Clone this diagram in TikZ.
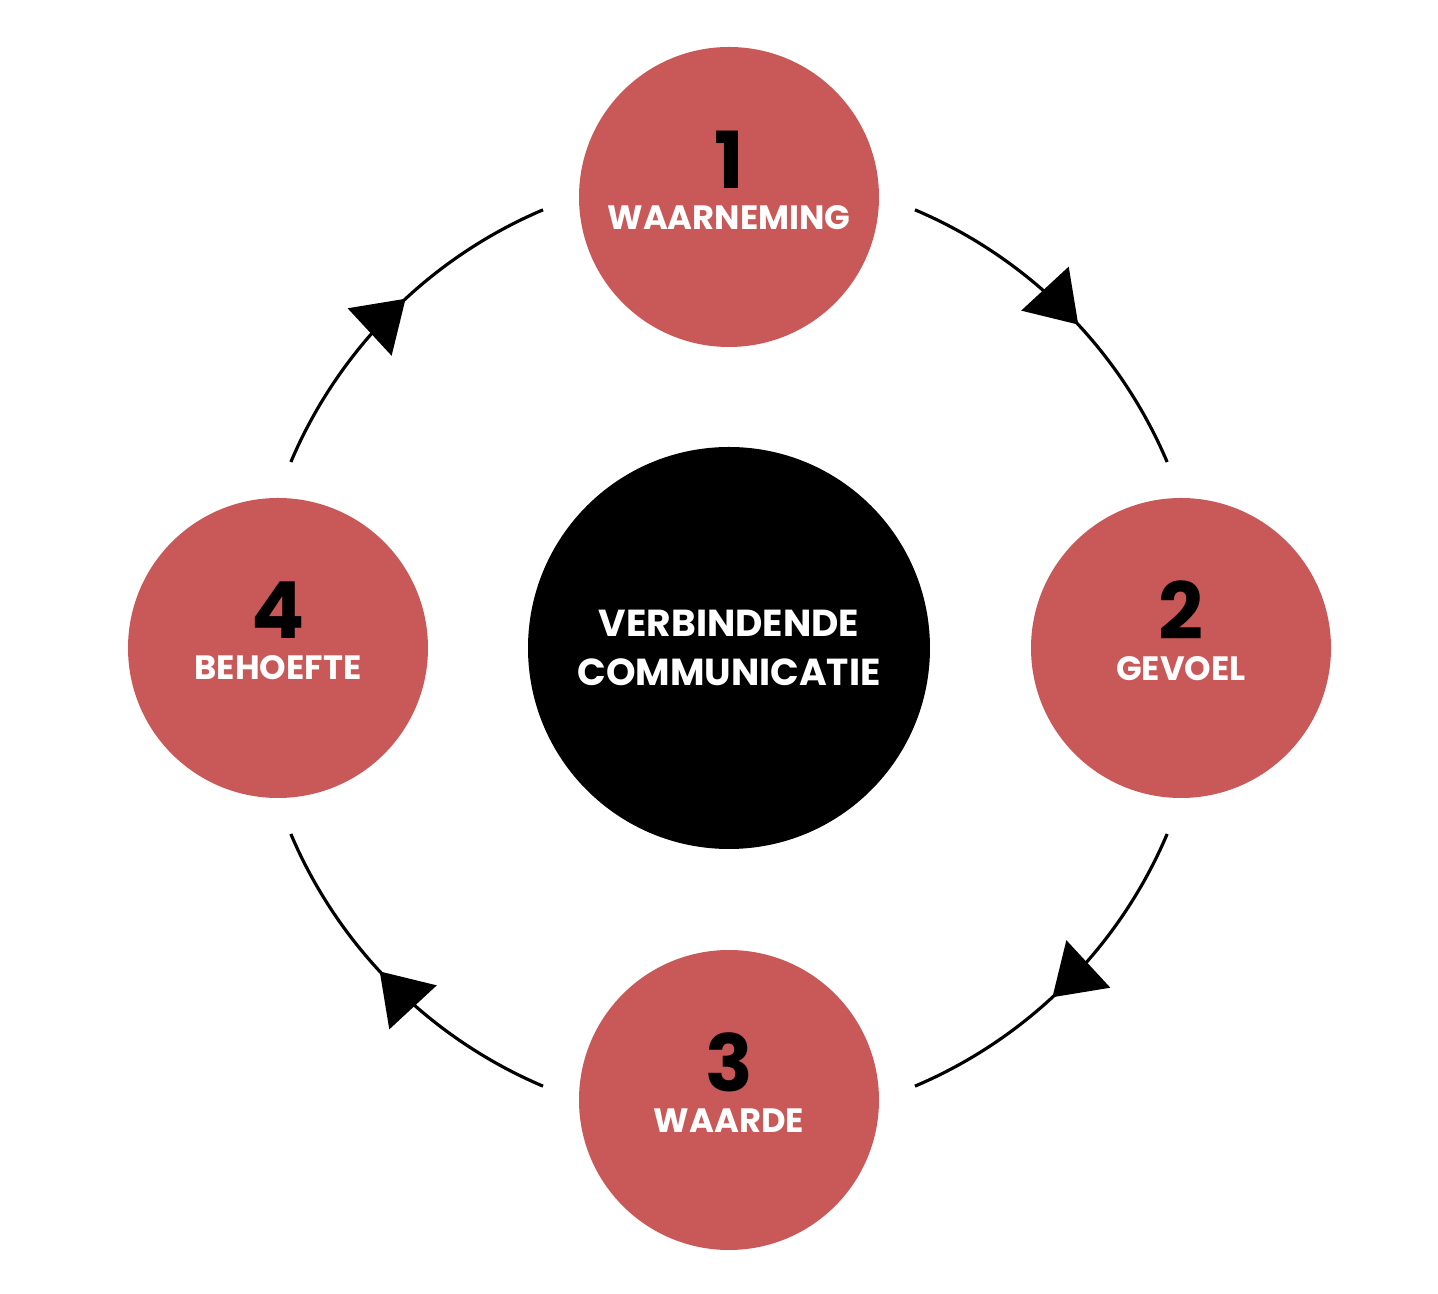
\documentclass[tikz,border=0pt]{standalone}
\usepackage{fontspec}
\setmainfont{Poppins}
\usetikzlibrary{arrows.meta, decorations.markings}

\definecolor{stagered}{RGB}{201,89,89}

\newcommand{\stagenum}[1]{{\fontsize{22.4}{22.4}\selectfont\color{black}#1}}
\newcommand{\stagelabel}[1]{{\fontsize{9.6}{11}\selectfont\color{white}#1}}

\begin{document}
\begin{tikzpicture}[
    stage/.style={circle, fill=stagered, minimum size=3cm, inner sep=0pt, align=center, font=\bfseries, text depth=3.4mm},
    hubcircle/.style={circle, fill=black, minimum size=4.02cm, inner sep=0pt, align=center, text=white, font=\bfseries\fontsize{10.7}{14}\selectfont},
    cycle/.style={line width=0.9pt, postaction={decorate},
        decoration={markings, mark=at position 0.55 with {\arrow{Triangle[length=4.9mm, width=6.4mm]}}}}
]
    % canvas, same proportions as the reference
    \useasboundingbox (-7.29,-6.46) rectangle (7.09,6.48);

    % the centre
    \node[hubcircle] (hub) at (0,0) {VERBINDENDE\\COMMUNICATIE};

    % the four steps, clockwise from the top
    \node[stage] (obs) at (0,4.51) {\stagenum{1}\\[-0.1mm]\stagelabel{WAARNEMING}};
    \node[stage] (feel) at (4.52,0) {\stagenum{2}\\[-0.1mm]\stagelabel{GEVOEL}};
    \node[stage] (val) at (0,-4.52) {\stagenum{3}\\[-0.1mm]\stagelabel{WAARDE}};
    \node[stage] (need) at (-4.51,0) {\stagenum{4}\\[-0.1mm]\stagelabel{BEHOEFTE}};

    % arc ends between the steps
    \coordinate (a1) at (67:4.76);
    \coordinate (a2) at (-23:4.76);
    \coordinate (a3) at (-113:4.76);
    \coordinate (a4) at (157:4.76);

    % clockwise arrows
    \draw[cycle] (a1) arc[start angle=67, end angle=23, radius=4.76];
    \draw[cycle] (a2) arc[start angle=-23, end angle=-67, radius=4.76];
    \draw[cycle] (a3) arc[start angle=-113, end angle=-157, radius=4.76];
    \draw[cycle] (a4) arc[start angle=157, end angle=113, radius=4.76];
\end{tikzpicture}
\end{document}
